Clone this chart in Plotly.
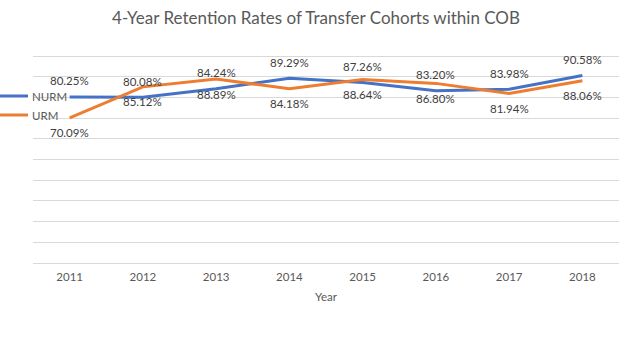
import plotly.graph_objects as go

# Cohort years and 4-year retention rates (%)
years = ["2011", "2012", "2013", "2014", "2015", "2016", "2017", "2018"]
nurm = [80.25, 80.08, 84.24, 89.29, 87.26, 83.20, 83.98, 90.58]
urm = [70.09, 85.12, 88.89, 84.18, 88.64, 86.80, 81.94, 88.06]
series_names = ["NURM", "URM"]

BLUE = "#4472C4"
ORANGE = "#ED7D31"
FONT = "Lato"
TEXT_GRAY = "#595959"

W, H = 632, 344
M_L, M_R, M_T, M_B = 33, 13, 54, 81
PLOT_W = W - M_L - M_R
PLOT_H = H - M_T - M_B

fig = go.Figure()
fig.add_trace(go.Scatter(x=years, y=nurm, name=series_names[0], mode="lines",
                         line=dict(color=BLUE, width=3), showlegend=False))
fig.add_trace(go.Scatter(x=years, y=urm, name=series_names[1], mode="lines",
                         line=dict(color=ORANGE, width=3), showlegend=False))

# Value labels: NURM above the points, URM below (x given as category index)
label_font = dict(family=FONT, size=11.5, color="#404040")
annotations = []
for i, v in enumerate(nurm):
    annotations.append(dict(x=i, y=v, xref="x", yref="y", text=f"{v:.2f}%",
                            showarrow=False, yshift=16, font=label_font))
for i, v in enumerate(urm):
    annotations.append(dict(x=i, y=v, xref="x", yref="y", text=f"{v:.2f}%",
                            showarrow=False, yshift=-15, font=label_font))

# Legend keys drawn at the left edge, partly overlapping the plot area
shapes = []
for name, color, py in zip(series_names, [BLUE, ORANGE], [96, 115]):
    yp = (H - M_B - py) / PLOT_H
    shapes.append(dict(type="line", xref="paper", yref="paper",
                       x0=-M_L / PLOT_W, x1=(28 - M_L) / PLOT_W, y0=yp, y1=yp,
                       line=dict(color=color, width=3)))
    annotations.append(dict(x=(30 - M_L) / PLOT_W, y=yp, xref="paper", yref="paper",
                            xanchor="left", yanchor="middle", showarrow=False,
                            text=name, font=dict(family=FONT, size=11.5, color=TEXT_GRAY)))

fig.update_layout(
    width=W, height=H,
    margin=dict(l=M_L, r=M_R, t=M_T, b=M_B),
    paper_bgcolor="white", plot_bgcolor="white",
    title=dict(text="4-Year Retention Rates of Transfer Cohorts within COB",
               x=0.5, xanchor="center", y=1 - 18 / H, yanchor="middle",
               font=dict(family=FONT, size=17, color=TEXT_GRAY)),
    showlegend=False,
    annotations=annotations,
    shapes=shapes,
    xaxis=dict(type="category", range=[-0.5, 7.5], showgrid=False,
               showline=True, linecolor="#D9D9D9", linewidth=1,
               ticks="", ticklabelstandoff=3,
               tickfont=dict(family=FONT, size=11.5, color=TEXT_GRAY),
               title=dict(text="Year", font=dict(family=FONT, size=11.5, color=TEXT_GRAY),
                          standoff=11)),
    yaxis=dict(range=[0, 101], dtick=10, showgrid=True, gridcolor="#D9D9D9",
               gridwidth=1, zeroline=False, showticklabels=False, ticks=""),
)

fig.write_html("out.html")
